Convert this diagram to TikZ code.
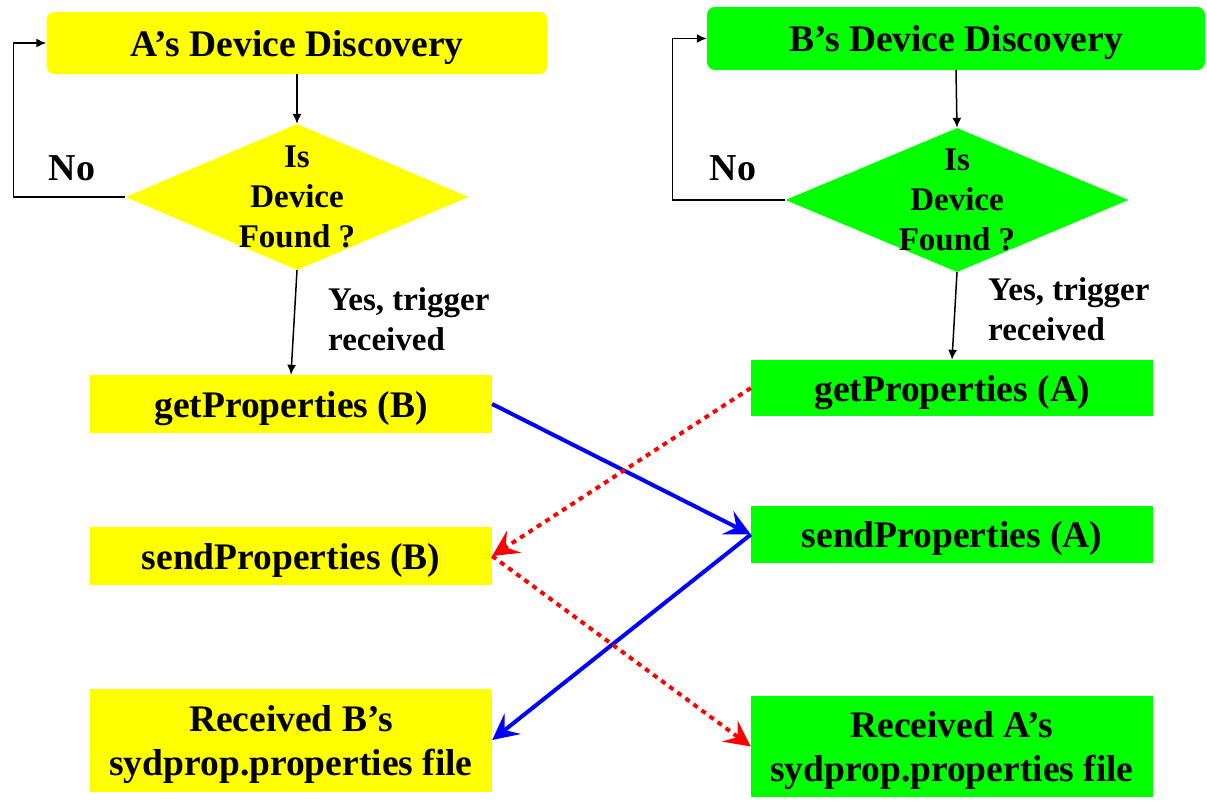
\documentclass[tikz,border=0pt]{standalone}
\usepackage{fontspec}
\setmainfont{Liberation Serif}
\usetikzlibrary{shapes.geometric,arrows.meta}
\definecolor{ayellow}{RGB}{255,255,0}
\definecolor{bgreen}{RGB}{0,255,0}
\begin{document}
\begin{tikzpicture}[x=1pt, y=-1pt,
    txt/.style={inner sep=0pt, align=center, text depth=0pt, font=\fontsize{37.5}{44}\selectfont\bfseries},
    ybox/.style={txt, fill=ayellow, minimum width=402pt},
    gbox/.style={txt, fill=bgreen, minimum width=402pt},
    disc/.style={txt, rounded corners=8pt, minimum height=62pt},
    decide/.style={diamond, inner sep=0pt, minimum width=343pt, minimum height=146pt},
    small/.style={inner sep=0pt, font=\fontsize{33}{40}\selectfont\bfseries},
    flow/.style={line width=1.5pt, -{Latex[length=10pt,width=9pt]}},
    req/.style={blue, line width=4pt, -{Stealth[length=26pt,width=26pt,inset=10pt]}},
    rep/.style={red, line width=4pt, dash pattern=on 5pt off 5pt, -{Stealth[length=26pt,width=26pt,inset=10pt]}}]
    \useasboundingbox (0,0) rectangle (1207,803);

    % device A
    \node[disc, fill=ayellow, minimum width=501pt] (dda) at (297,43) {A’s Device Discovery};
    \node[decide, fill=ayellow] (da) at (297,197) {};
    \node[small, align=center] (ta) at (da) {Is\\Device\\Found ?};
    \node[txt, font=\fontsize{38}{44}\selectfont\bfseries] (noa) at (72,168) {No};
    \node[small, align=left, anchor=base west] (ya) at (328,350) {Yes, trigger\\received};
    \node[ybox, minimum height=58pt] (gpb) at (291,404) {getProperties (B)};
    \node[ybox, minimum height=58pt] (spb) at (291,556) {sendProperties (B)};
    \node[ybox, minimum height=103pt] (rb) at (291,740) {Received B’s\\sydprop.properties file};

    % device B
    \node[disc, fill=bgreen, minimum width=498pt, minimum height=63pt] (ddb) at (956,38.5) {B’s Device Discovery};
    \node[decide, fill=bgreen, minimum height=144pt] (db) at (957,200) {};
    \node[small, align=center] (tb) at (db) {Is\\Device\\Found ?};
    \node[txt, font=\fontsize{38}{44}\selectfont\bfseries] (nob) at (733,168) {No};
    \node[small, align=left, anchor=base west] (yb) at (988,340) {Yes, trigger\\received};
    \node[gbox, minimum height=56pt] (gpa) at (952,388) {getProperties (A)};
    \node[gbox, minimum height=57pt] (spa) at (952,534.5) {sendProperties (A)};
    \node[gbox, minimum height=101pt] (ra) at (952,746.5) {Received A’s\\sydprop.properties file};

    % discovery loops
    \draw[flow] (dda.south) -- (da.north);
    \draw[flow] (da.west) -- ++(-112,0) |- (dda.west);
    \draw[flow] (da.south) -- (gpb.north);
    \draw[flow] (ddb.south) -- (db.north);
    \draw[flow] (db.west) -- ++(-113,0) |- (ddb.west);
    \draw[flow] (db.south) -- (gpa.north);

    % property exchange
    \draw[req] (gpb.east) -- (spa.west);
    \draw[req] (spa.west) -- (rb.east);
    \draw[rep] (gpa.west) -- (spb.east);
    \draw[rep] (spb.east) -- (ra.west);
\end{tikzpicture}
\end{document}
